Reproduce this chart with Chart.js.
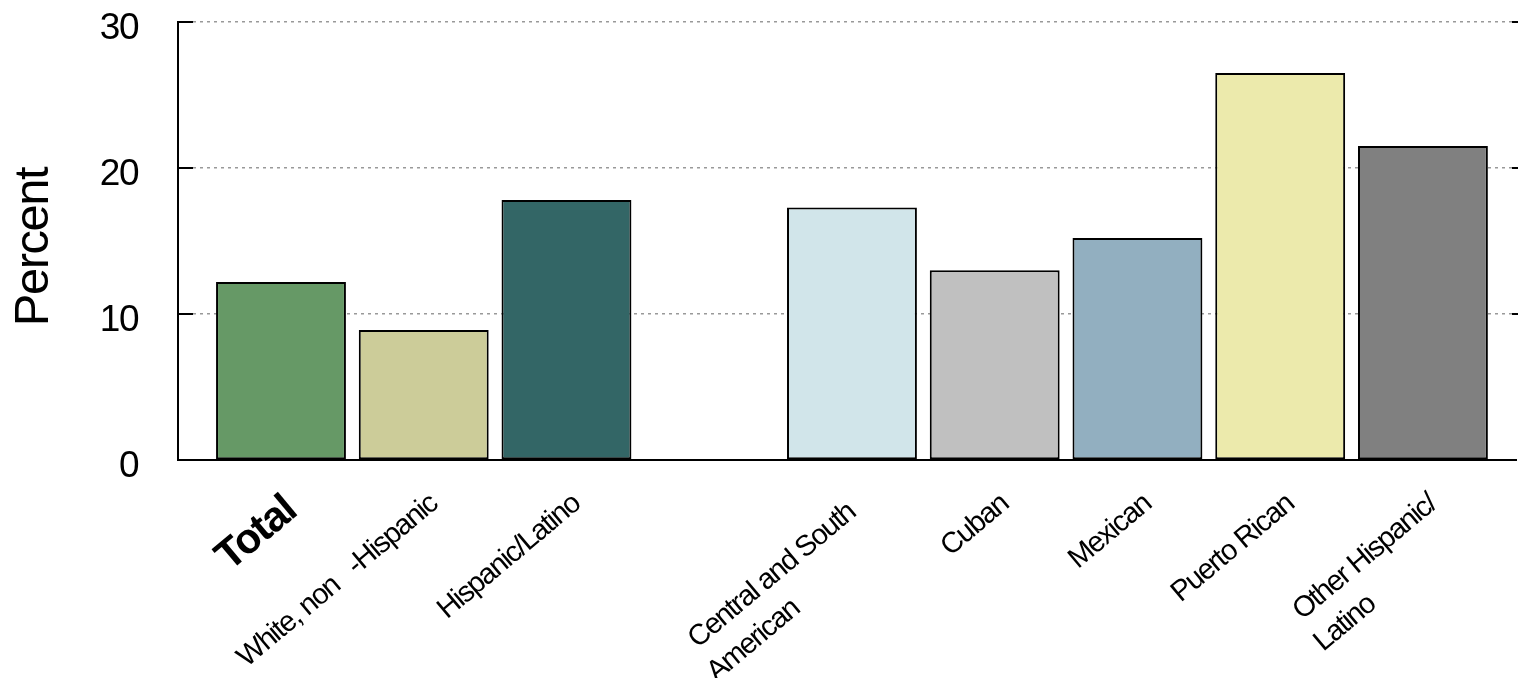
<!DOCTYPE html>
<html>
<head>
<meta charset="utf-8">
<script src="https://cdn.jsdelivr.net/npm/chart.js@4"></script>
<style>
html, body { margin: 0; padding: 0; background: #fff; }
#wrap { width: 1518px; height: 678px; }
</style>
</head>
<body>
<div id="wrap"><canvas id="chart"></canvas></div>
<script>
// one slot per bar, '' / null is the empty gap after Hispanic/Latino
var categories = ['Total', 'White, non-Hispanic', 'Hispanic/Latino', '', 'Central and South American', 'Cuban', 'Mexican', 'Puerto Rican', 'Other Hispanic/Latino'];
var tickLabels = ['Total', 'White, non   -Hispanic', 'Hispanic/Latino', '',
	['Central and South  ', 'American                  '], 'Cuban', 'Mexican', 'Puerto Rican',
	['Other Hispanic/', 'Latino                 ']];
var values = [12.2, 8.9, 17.8, null, 17.3, 13.0, 15.2, 26.5, 21.5];
var barColors = ['#669966', '#cccc99', '#336666', null, '#d1e5ea', '#c0c0c0', '#92afc0', '#eceaac', '#808080'];
var yTicks = [0, 10, 20, 30];

var points = [];
var colors = [];
for (var i = 0; i < values.length; i++) {
	if (values[i] === null) continue;
	points.push({ x: i, y: values[i] });
	colors.push(barColors[i]);
}

Chart.defaults.font.family = "'Liberation Sans', Arial, sans-serif";
Chart.defaults.color = '#000';

// tight lettering, plus short solid tick marks pointing into the plot on both sides
var innerTicks = {
	id: 'innerTicks',
	beforeInit: function(chart) {
		chart.ctx.letterSpacing = '-1.5px';
	},
	beforeDraw: function(chart) {
		chart.ctx.letterSpacing = '-1.5px';
	},
	afterDraw: function(chart) {
		var ctx = chart.ctx;
		var y = chart.scales.y;
		var area = chart.chartArea;
		ctx.save();
		ctx.strokeStyle = '#000';
		ctx.lineWidth = 2;
		yTicks.forEach(function(t) {
			if (t === 0) return;
			var py = y.getPixelForValue(t);
			ctx.beginPath();
			ctx.moveTo(area.left, py);
			ctx.lineTo(area.left + 15, py);
			ctx.moveTo(area.right - 4, py);
			ctx.lineTo(area.right + 2, py);
			ctx.stroke();
		});
		ctx.restore();
	}
};

var ctx = document.getElementById('chart').getContext('2d');
var chart = new Chart(ctx, {
	type: 'bar',
	data: {
		datasets: [{
			data: points,
			backgroundColor: colors,
			borderColor: '#000',
			borderWidth: 2,
			borderSkipped: false,
			barPercentage: 0.91,
			categoryPercentage: 1
		}]
	},
	plugins: [innerTicks],
	options: {
		responsive: true,
		maintainAspectRatio: false,
		animation: false,
		devicePixelRatio: 1,
		layout: { padding: { top: 22, right: 2, left: 0, bottom: 0 } },
		plugins: {
			legend: { display: false },
			tooltip: { enabled: false }
		},
		scales: {
			x: {
				type: 'linear',
				offset: false,
				min: -0.7215,
				max: 8.652,
				afterBuildTicks: function(s) {
					s.ticks = categories.map(function(c, i) { return { value: i }; });
				},
				afterFit: function(s) {
					s.height = 218;
					s.paddingLeft = 0;
					s.paddingRight = 0;
				},
				grid: { display: false },
				border: { display: true, color: '#000', width: 2 },
				ticks: {
					autoSkip: false,
					minRotation: 40,
					maxRotation: 40,
					padding: 18,
					labelOffset: 10,
					color: '#000',
					font: function(c) {
						if (c.index === 0) return { size: 42, weight: 'bold', lineHeight: 1.2 };
						return { size: 29, lineHeight: 1.3 };
					},
					callback: function(v, i) { return tickLabels[i]; }
				}
			},
			y: {
				min: 0,
				max: 30,
				afterBuildTicks: function(s) {
					s.ticks = yTicks.map(function(t) { return { value: t }; });
				},
				afterFit: function(s) {
					s.width = 178;
					s.paddingTop = 0;
					s.paddingBottom = 0;
				},
				grid: {
					drawTicks: false,
					lineWidth: 1.5,
					color: function(c) { return c.tick && c.tick.value === 0 ? 'rgba(0,0,0,0)' : '#999'; }
				},
				border: { display: true, color: '#000', width: 2, dash: [3, 4] },
				ticks: {
					padding: 40,
					labelOffset: 7,
					color: '#000',
					font: { size: 37 }
				},
				title: {
					display: true,
					text: 'Percent ',
					color: '#000',
					font: { size: 49 },
					padding: { top: 5, bottom: 0 }
				}
			}
		}
	}
});
</script>
</body>
</html>
